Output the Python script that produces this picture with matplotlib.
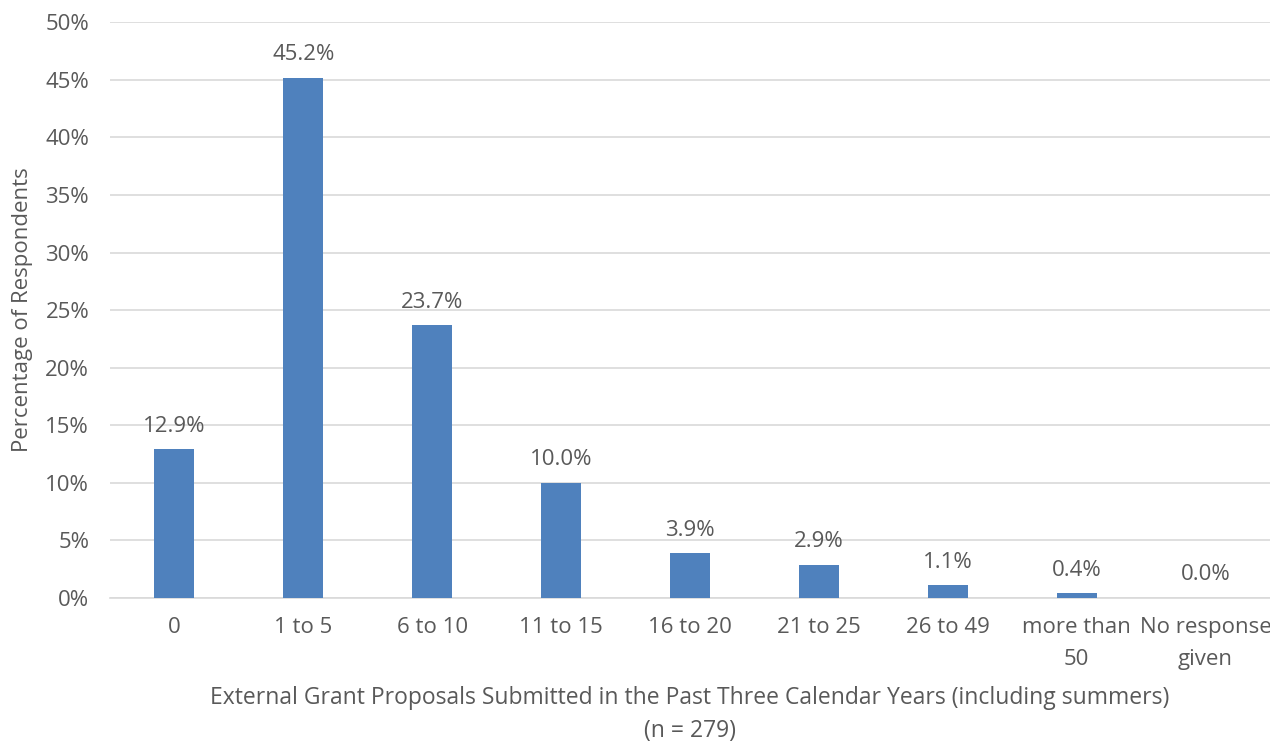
import matplotlib
matplotlib.use("Agg")
import matplotlib.pyplot as plt
import matplotlib.ticker as mtick

categories = ["0", "1 to 5", "6 to 10", "11 to 15", "16 to 20", "21 to 25",
              "26 to 49", "more than\n50", "No response\ngiven"]
percents = [12.9, 45.2, 23.7, 10.0, 3.9, 2.9, 1.1, 0.4, 0.0]

BAR_COLOR = "#4F81BD"
TEXT_COLOR = "#595959"
GRID_COLOR = "#D9D9D9"
FS = 16

plt.rcParams["font.family"] = ["Open Sans", "DejaVu Sans"]

fig = plt.figure(figsize=(12.7, 7.41), dpi=100)
ax = fig.add_axes([0.0866, 0.193, 0.9134, 0.777])

x = range(len(categories))
bars = ax.bar(x, percents, width=0.31, color=BAR_COLOR, zorder=3)

for b, v in zip(bars, percents):
    ax.annotate(f"{v:.1f}%", (b.get_x() + b.get_width() / 2, v),
                xytext=(0, 9), textcoords="offset points",
                ha="center", va="bottom", fontsize=FS, color=TEXT_COLOR)

ax.set_xlim(-0.5, len(categories) - 0.5)
ax.set_ylim(0, 50)
ax.set_yticks(range(0, 51, 5))
ax.yaxis.set_major_formatter(mtick.PercentFormatter(decimals=0))
ax.grid(axis="y", color=GRID_COLOR, linewidth=1.2, zorder=0)
ax.set_xticks(list(x))
ax.set_xticklabels(categories, linespacing=1.65)
ax.tick_params(axis="both", length=0, labelsize=FS, colors=TEXT_COLOR)
ax.tick_params(axis="x", pad=14)
ax.tick_params(axis="y", pad=15)
for side in ["top", "right", "left"]:
    ax.spines[side].set_visible(False)
ax.spines["bottom"].set_color(GRID_COLOR)
ax.spines["bottom"].set_linewidth(1.2)

ax.set_ylabel("Percentage of Respondents", fontsize=FS, color=TEXT_COLOR, labelpad=9)
ax.set_xlabel("External Grant Proposals Submitted in the Past Three Calendar Years (including summers)\n(n = 279)",
              fontsize=16.5, color=TEXT_COLOR, labelpad=12, linespacing=1.5)

fig.savefig("out.png", dpi=100)
